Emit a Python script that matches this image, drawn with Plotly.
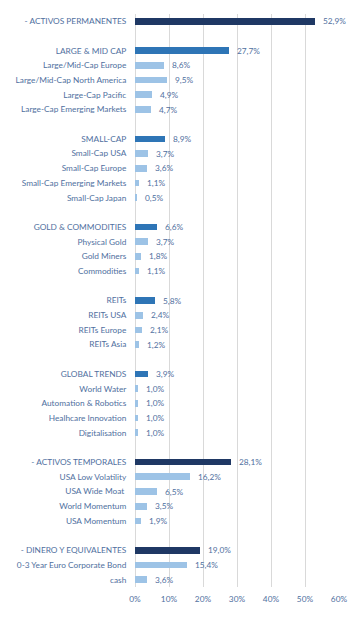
import plotly.graph_objects as go

# Row labels (None = blank spacer row)
labels = [
    "- ACTIVOS PERMANENTES", None,
    "LARGE & MID CAP", "Large/Mid-Cap Europe", "Large/Mid-Cap North America",
    "Large-Cap Pacific", "Large-Cap Emerging Markets", None,
    "SMALL-CAP", "Small-Cap USA", "Small-Cap Europe", "Small-Cap Emerging Markets",
    "Small-Cap Japan", None,
    "GOLD & COMMODITIES", "Physical Gold", "Gold Miners", "Commodities", None,
    "REITs", "REITs USA", "REITs Europe", "REITs Asia", None,
    "GLOBAL TRENDS", "World Water", "Automation & Robotics", "Healhcare Innovation",
    "Digitalisation", None,
    "- ACTIVOS TEMPORALES", "USA Low Volatility", "USA Wide Moat ", "World Momentum",
    "USA Momentum", None,
    "- DINERO Y EQUIVALENTES", "0-3 Year Euro Corporate Bond", "cash",
]
values = [
    52.9, None,
    27.7, 8.6, 9.5, 4.9, 4.7, None,
    8.9, 3.7, 3.6, 1.1, 0.5, None,
    6.6, 3.7, 1.8, 1.1, None,
    5.8, 2.4, 2.1, 1.2, None,
    3.9, 1.0, 1.0, 1.0, 1.0, None,
    28.1, 16.2, 6.5, 3.5, 1.9, None,
    19.0, 15.4, 3.6,
]
levels = [
    "total", None,
    "group", "item", "item", "item", "item", None,
    "group", "item", "item", "item", "item", None,
    "group", "item", "item", "item", None,
    "group", "item", "item", "item", None,
    "group", "item", "item", "item", "item", None,
    "total", "item", "item", "item", "item", None,
    "total", "item", "item",
]
x_ticks = [0, 10, 20, 30, 40, 50, 60]

level_colors = {"total": "#1F3864", "group": "#2E75B6", "item": "#9DC3E6"}
text_color = "#5070A0"
font_family = "Lato, 'Open Sans', sans-serif"
fsize = 8.3

rows = [(i, l, v, lv) for i, (l, v, lv) in enumerate(zip(labels, values, levels)) if l is not None]
ys = [r[0] for r in rows]
xs = [r[2] for r in rows]
cols = [level_colors[r[3]] for r in rows]

fig = go.Figure()
fig.add_trace(go.Bar(
    x=xs, y=ys, orientation="h", width=0.46,
    marker=dict(color=cols, line=dict(width=0)),
    hoverinfo="skip",
))

for y, x in zip(ys, xs):
    fig.add_annotation(
        x=x, y=y, text=f"{x:.1f}%".replace(".", ","), showarrow=False,
        xanchor="left", yanchor="middle", xshift=6,
        font=dict(size=fsize, color=text_color, family=font_family),
    )

# page body has an 8px default margin, so the figure is sized to fit the window
fig.update_layout(
    width=353, height=611,
    margin=dict(l=127, r=22, t=6, b=32),
    paper_bgcolor="white", plot_bgcolor="white",
    showlegend=False,
    bargap=0,
    font=dict(family=font_family, size=fsize, color=text_color),
)
fig.update_xaxes(
    range=[0, 60], tickvals=x_ticks, ticktext=[f"{t}%" for t in x_ticks],
    showgrid=True, gridcolor="#D9D9D9", gridwidth=1,
    zeroline=True, zerolinecolor="#D9D9D9", zerolinewidth=1,
    showline=False, ticks="outside", ticklen=4, tickcolor="rgba(0,0,0,0)",
    tickfont=dict(size=fsize, color=text_color),
    fixedrange=True, automargin=False,
)
fig.update_yaxes(
    range=[len(labels) - 0.5, -0.5],
    tickvals=ys, ticktext=[r[1] for r in rows],
    showgrid=False, zeroline=False, showline=False,
    ticks="outside", ticklen=6, tickcolor="rgba(0,0,0,0)",
    tickfont=dict(size=fsize, color=text_color),
    fixedrange=True, automargin=False,
)

fig.write_html("out.html")
